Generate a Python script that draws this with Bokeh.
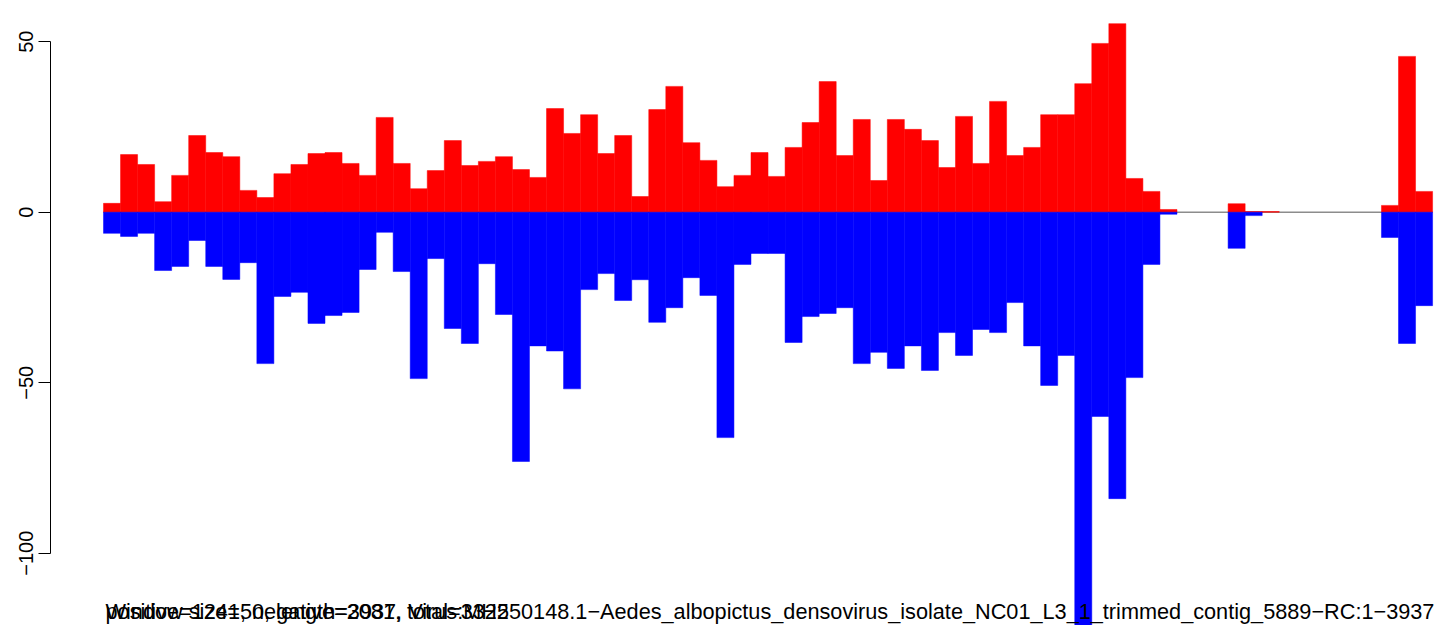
from bokeh.plotting import figure
from bokeh.models import Range1d, LinearAxis, FixedTicker, Label, CustomJSTickFormatter
from bokeh.embed import file_html
from bokeh.resources import INLINE

# windows of 50 nt along the 3937 nt contig
positive = [2.6, 16.9, 14.0, 3.1, 10.8, 22.5, 17.5, 16.3, 6.4, 4.3,
            11.3, 14.0, 17.2, 17.5, 14.3, 10.8, 27.8, 14.3, 6.9, 12.2,
            21.0, 13.7, 14.9, 16.3, 12.5, 10.2, 30.4, 23.1, 28.6, 17.2,
            22.5, 4.6, 30.1, 36.9, 20.4, 15.2, 7.5, 10.8, 17.5, 10.5,
            19.0, 26.3, 38.3, 16.6, 27.2, 9.3, 27.2, 24.3, 21.0, 13.1,
            28.1, 14.3, 32.5, 16.6, 19.0, 28.6, 28.6, 37.7, 49.5, 55.3,
            9.9, 6.1, 0.8, 0, 0, 0, 2.5, 0.2, 0.2, 0,
            0, 0, 0, 0, 0, 2.0, 45.7, 6.1]
negative = [-6.2, -7.1, -6.2, -17.1, -15.9, -8.3, -15.9, -19.7, -14.8, -44.4,
            -24.7, -23.5, -32.6, -30.3, -29.4, -16.8, -5.9, -17.4, -48.8, -13.6,
            -34.1, -38.5, -15.1, -30.0, -73.1, -39.2, -40.7, -51.8, -22.7, -18.0,
            -25.9, -19.8, -32.3, -28.0, -19.2, -24.4, -66.1, -15.3, -12.1, -12.1,
            -38.2, -30.6, -29.7, -28.0, -44.4, -41.1, -45.8, -39.2, -46.4, -35.3,
            -42.0, -34.4, -35.3, -26.5, -39.2, -50.8, -42.0, -122.0, -59.9, -84.0,
            -48.5, -15.3, -0.6, 0, 0, 0, -10.6, -1.0, 0, 0,
            0, 0, 0, 0, 0, -7.4, -38.5, -27.4]
y_ticks = [-100, -50, 0, 50]
info_text = "positive=1241, negative=2081, total=3322"
window_text = ("Window size=50, length=3937, Virus:MH550148.1\u2212Aedes_albopictus_densovirus_"
               "isolate_NC01_L3_1_trimmed_contig_5889\u2212RC:1\u22123937")

n = len(positive)
xs = [i + 0.5 for i in range(n)]
pos_edge = [1 if v != 0 else 0 for v in positive]
neg_edge = [1 if v != 0 else 0 for v in negative]

p = figure(width=1436, height=625, output_backend="svg", toolbar_location=None,
           x_range=Range1d(-3.11, 78.23), y_range=Range1d(-121.2, 59.74),
           x_axis_location=None, y_axis_location=None,
           min_border_left=50, min_border_right=0, min_border_top=8, min_border_bottom=0)
p.outline_line_color = None
p.xgrid.visible = False
p.ygrid.visible = False
p.background_fill_color = "white"
p.border_fill_color = "white"

# zero line
p.line(x=[0, n], y=[0, 0], line_color="#8c8c8c", line_width=1.4)

p.vbar(x=xs, width=1, top=positive, bottom=0, fill_color="#FF0000",
       line_color="#FF0000", line_alpha=pos_edge, line_width=0.5)
p.vbar(x=xs, width=1, top=0, bottom=negative, fill_color="#0000FF",
       line_color="#0000FF", line_alpha=neg_edge, line_width=0.5)

yaxis = LinearAxis(bounds=(-100, 50), ticker=FixedTicker(ticks=y_ticks))
yaxis.formatter = CustomJSTickFormatter(code="return tick < 0 ? '\\u2212' + Math.abs(tick) : '' + tick;")
yaxis.major_label_orientation = "vertical"
yaxis.major_label_text_font = "Liberation Sans"
yaxis.major_label_text_font_size = "20px"
yaxis.major_label_text_color = "black"
yaxis.major_label_standoff = 5
yaxis.major_tick_out = 12
yaxis.major_tick_in = 0
yaxis.minor_tick_out = 0
yaxis.minor_tick_in = 0
yaxis.axis_line_color = "black"
yaxis.major_tick_line_color = "black"
p.add_layout(yaxis, "left")

for t in (info_text, window_text):
    p.add_layout(Label(x=0.12, y=-117.0, text=t, text_font="Liberation Sans",
                       text_font_size="21.7px", text_color="black",
                       text_baseline="alphabetic", text_align="left"))

open("out.html", "w").write(file_html(p, INLINE))
